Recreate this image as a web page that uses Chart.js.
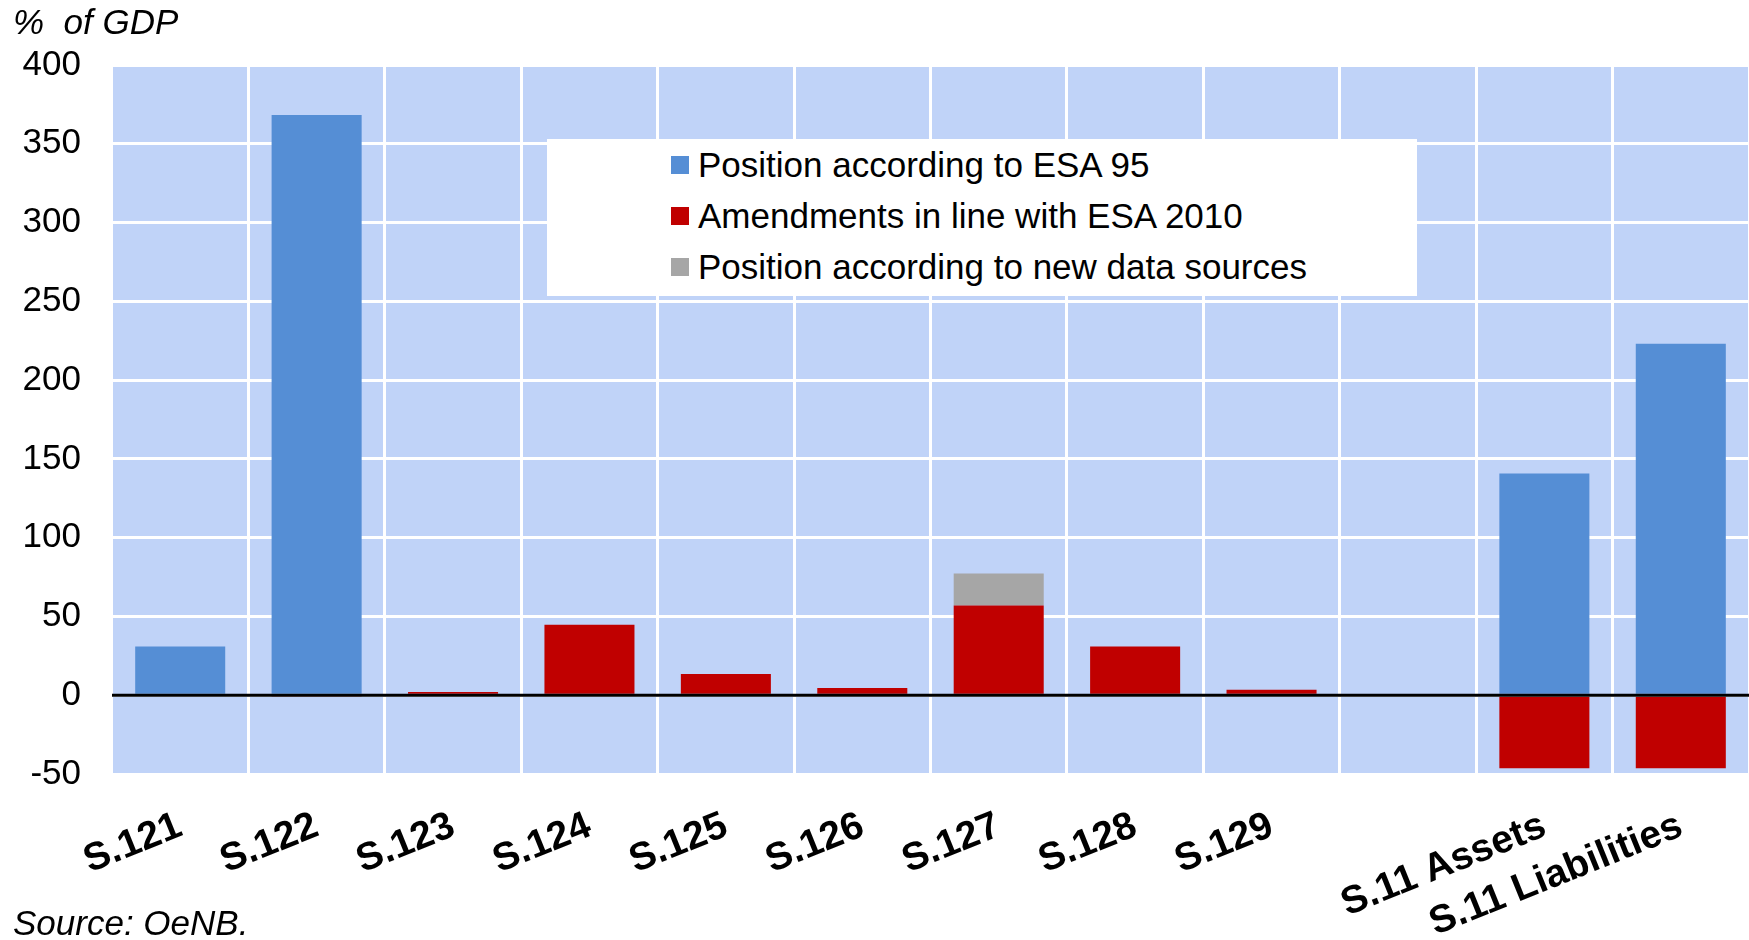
<!DOCTYPE html>
<html>
<head>
<meta charset="utf-8">
<script src="https://cdn.jsdelivr.net/npm/chart.js@4.4.1/dist/chart.umd.min.js"></script>
<style>
  html, body { margin: 0; padding: 0; background: #fff; }
  #wrap { position: relative; width: 1749px; height: 940px; font-family: "Liberation Sans", Arial, sans-serif; color: #000; }
  #chart { position: absolute; left: 0; top: 0; }
  #ytitle { position: absolute; left: 13px; top: 2px; font-size: 35px; font-style: italic; white-space: pre; line-height: 40px; }
  #source { position: absolute; left: 13px; top: 903px; font-size: 35px; font-style: italic; line-height: 40px; }
  #legend { position: absolute; left: 547px; top: 139px; width: 870px; height: 157px; background: #fff; box-sizing: border-box; padding-left: 124px; }
  .item { display: flex; align-items: center; height: 51.4px; font-size: 35px; white-space: nowrap; }
  .sw { width: 18px; height: 18px; margin-right: 9px; flex: none; }
</style>
</head>
<body>
<div id="wrap">
  <canvas id="chart" width="1749" height="940"></canvas>
  <div id="ytitle">%  of GDP</div>
  <div id="legend"></div>
  <div id="source">Source: OeNB.</div>
</div>
<script>
// ---- Data ----
const categories = ['S.121', 'S.122', 'S.123', 'S.124', 'S.125', 'S.126', 'S.127', 'S.128', 'S.129', '', 'S.11 Assets', 'S.11 Liabilities'];
const esa95Values = [31, 368.3, null, null, null, null, null, null, null, null, 140.7, 223];
const esa2010Amendments = [null, -1.2, 2, 44.8, 13.5, 4.6, 57, 31, 3.5, null, -46.3, -46.3];
const newSourceValues = [null, null, null, null, null, null, 20.3, null, null, null, null, null];
const seriesLabels = ['Position according to ESA 95', 'Amendments in line with ESA 2010', 'Position according to new data sources'];
const yTicks = { min: -50, max: 400, step: 50 };

// ---- Styles ----
const COLORS = ['#558ED5', '#C00000', '#A6A6A6'];
const PLOT_BG = '#C0D3F8';

const plotPlugin = {
  id: 'plotDecor',
  beforeDraw(chart) {
    const { ctx, chartArea: a } = chart;
    ctx.save();
    ctx.fillStyle = PLOT_BG;
    ctx.fillRect(a.left, a.top, a.right - a.left, a.bottom - a.top);
    ctx.restore();
  },
  afterDatasetsDraw(chart) {
    const { ctx, chartArea: a } = chart;
    const y = chart.scales.y.getPixelForValue(0);
    ctx.save();
    ctx.strokeStyle = '#000';
    ctx.lineWidth = 3;
    ctx.beginPath();
    ctx.moveTo(a.left, y);
    ctx.lineTo(a.right, y);
    ctx.stroke();
    ctx.restore();
  }
};

const datasets = [esa95Values, esa2010Amendments, newSourceValues].map((d, i) => ({
  label: seriesLabels[i],
  data: d,
  backgroundColor: COLORS[i],
  borderWidth: 0,
  barPercentage: 0.66,
  categoryPercentage: 1.0
}));

new Chart(document.getElementById('chart'), {
  type: 'bar',
  data: { labels: categories, datasets },
  options: {
    responsive: false,
    animation: false,
    devicePixelRatio: 1,
    layout: { padding: { top: 65, left: 0, right: 0, bottom: 0 } },
    plugins: { legend: { display: false }, tooltip: { enabled: false }, title: { display: false } },
    scales: {
      x: {
        stacked: true,
        grid: { offset: true, color: '#ffffff', lineWidth: 3, drawTicks: false },
        border: { display: false },
        ticks: {
          color: '#000',
          font: { family: '"Liberation Sans", Arial, sans-serif', size: 39, weight: 'bold' },
          minRotation: 22, maxRotation: 22, autoSkip: false, padding: 29
        },
        afterFit(scale) { scale.height = 166; scale.paddingLeft = 0; scale.paddingRight = 0; }
      },
      y: {
        stacked: true,
        min: yTicks.min, max: yTicks.max,
        grid: { color: '#ffffff', lineWidth: 3, drawTicks: false },
        border: { display: false },
        ticks: {
          stepSize: yTicks.step,
          color: '#000',
          font: { family: '"Liberation Sans", Arial, sans-serif', size: 35 },
          padding: 31
        },
        afterFit(scale) { scale.width = 112; }
      }
    }
  },
  plugins: [plotPlugin]
});

// HTML legend built from the series
const legend = document.getElementById('legend');
seriesLabels.forEach((lab, i) => {
  const it = document.createElement('div');
  it.className = 'item';
  const sw = document.createElement('span');
  sw.className = 'sw';
  sw.style.background = COLORS[i];
  const tx = document.createElement('span');
  tx.textContent = lab;
  it.appendChild(sw);
  it.appendChild(tx);
  legend.appendChild(it);
});
</script>
</body>
</html>
